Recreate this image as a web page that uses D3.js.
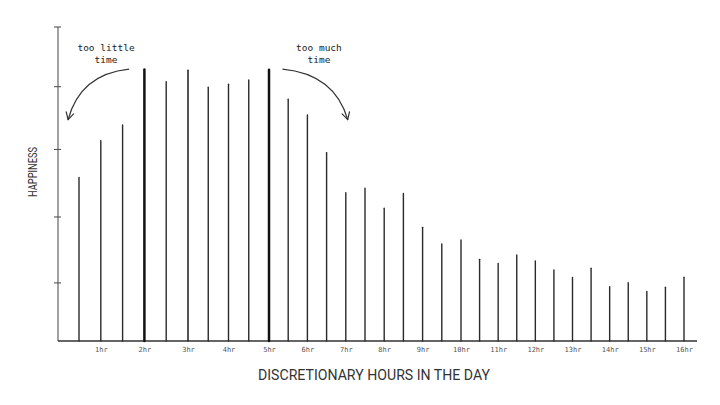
<!DOCTYPE html>
<html><head><meta charset="utf-8">
<script src="https://cdn.jsdelivr.net/npm/d3@7"></script>
<style>body{margin:0;background:#fff}svg{display:block}</style>
</head><body><svg id="c" width="720" height="405"></svg>
<script>
// ---- data ----
const hours = [0.5,1,1.5,2,2.5,3,3.5,4,4.5,5,5.5,6,6.5,7,7.5,8,8.5,9,9.5,10,10.5,11,11.5,12,12.5,13,13.5,14,14.5,15,15.5,16];
const happiness = [52.1,63.8,68.8,86.5,82.6,86.2,80.8,81.8,83.1,86.4,77.0,72.0,60.0,47.2,48.7,42.3,47.0,36.2,30.9,32.2,26.0,24.7,27.4,25.5,22.6,20.2,23.2,17.3,18.6,15.8,17.1,20.3];
const hourTicks = [1,2,3,4,5,6,7,8,9,10,11,12,13,14,15,16];
const hourTickLabels = ["1hr","2hr","3hr","4hr","5hr","6hr","7hr","8hr","9hr","10hr","11hr","12hr","13hr","14hr","15hr","16hr"];
const yTickValues = [18.5,39.5,61,81,100];
const annotations = [
  {lines:["too little","time"], from:1.65, to:0.25, label:1.12},
  {lines:["too much","time"], from:5.35, to:7.05, label:6.3}
];
const xTitle = "DISCRETIONARY HOURS IN THE DAY";
const yTitle = "HAPPINESS";

// ---- chart ----
const svg = d3.select("#c");
const x = d3.scaleLinear().domain([0.5,3,5,10,16]).range([79,188,269,461,684]);
const y = d3.scaleLinear().domain([0,100]).range([341,27]);
const axisX = 58, baseY = y(0);

// y axis
svg.append("line").attr("x1",axisX).attr("x2",axisX).attr("y1",y(100)).attr("y2",baseY)
  .attr("stroke","#555").attr("stroke-width",1.1);
svg.append("g").selectAll("line").data(yTickValues).join("line")
  .attr("x1",axisX-4).attr("x2",axisX+3).attr("y1",d=>y(d)).attr("y2",d=>y(d))
  .attr("stroke","#555").attr("stroke-width",1.1);

// baseline
svg.append("line").attr("x1",axisX).attr("x2",697).attr("y1",baseY).attr("y2",baseY)
  .attr("stroke","#333").attr("stroke-width",1.4);

// x axis labels
const xAxis = d3.axisBottom(x).tickValues(hourTicks).tickSize(0)
  .tickFormat((d,i)=>hourTickLabels[i]);
const gx = svg.append("g").attr("transform",`translate(0,${baseY+3})`).call(xAxis);
gx.select(".domain").remove();
gx.selectAll("text").attr("font-family","DejaVu Sans Mono").attr("font-size",7)
  .attr("fill","#555");

// bars (lines)
svg.append("g").selectAll("line").data(hours).join("line")
  .attr("x1",d=>x(d)).attr("x2",d=>x(d))
  .attr("y1",baseY).attr("y2",(d,i)=>y(happiness[i]))
  .attr("stroke",(d,i)=>happiness[i]>=86.4?"#111":"#2a2a2a")
  .attr("stroke-width",(d,i)=>happiness[i]>=86.4?2.5:(happiness[i]>=86?1.6:1.4))
  .attr("stroke-linecap","round");

// annotations
const ann = svg.append("g");
annotations.forEach(a=>{
  const x0 = x(a.from), x1 = x(a.to);
  const y0 = y(86.6), y1 = y(70.5);
  const cx = x1 + (x0-x1)*0.2, cy = y0 + 5;
  ann.append("path").attr("d",`M${x0},${y0} Q${cx},${cy} ${x1},${y1}`)
    .attr("fill","none").attr("stroke","#333").attr("stroke-width",1.2);
  const ang = Math.atan2(y1-cy, x1-cx);
  const L = 8;
  [-0.5,0.5].forEach(s=>{
    ann.append("line").attr("x1",x1).attr("y1",y1)
      .attr("x2",x1 - L*Math.cos(ang+s)).attr("y2",y1 - L*Math.sin(ang+s))
      .attr("stroke","#333").attr("stroke-width",1.2).attr("stroke-linecap","round");
  });
  ann.append("text").attr("text-anchor","middle")
    .attr("font-family","DejaVu Sans Mono").attr("font-size",9.5).attr("fill","#222")
    .selectAll("tspan").data(a.lines).join("tspan")
    .attr("x",x(a.label)).attr("y",(d,i)=>y(92.5)+i*12).text(d=>d);
});

// titles
svg.append("text").attr("x",374).attr("y",380).attr("text-anchor","middle")
  .attr("font-family","Roboto").attr("font-size",14.5).attr("fill","#333")
  .attr("textLength",232).attr("lengthAdjust","spacingAndGlyphs").text(xTitle);
svg.append("text").attr("transform","translate(37,172) rotate(-90)").attr("text-anchor","middle")
  .attr("font-family","Roboto").attr("font-size",13).attr("fill","#333")
  .attr("textLength",50).attr("lengthAdjust","spacingAndGlyphs").text(yTitle);
</script></body></html>
